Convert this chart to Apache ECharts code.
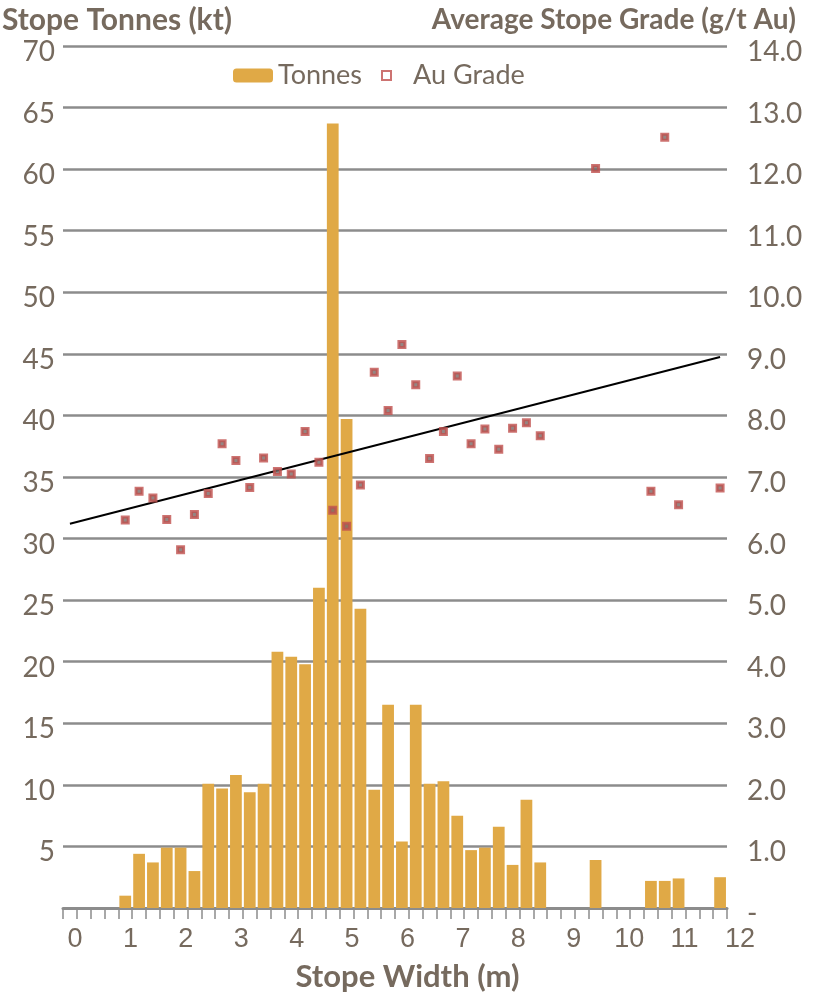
<!DOCTYPE html>
<html>
<head>
<meta charset="utf-8">
<script src="https://cdn.jsdelivr.net/npm/echarts@6/dist/echarts.min.js"></script>
<style>
html,body{margin:0;padding:0;background:#fff;}
#chart{width:819px;height:997px;}
</style>
</head>
<body>
<div id="chart"></div>
<script>
// 0.25 m stope-width bins
const categories = ['0.00','0.25','0.50','0.75','1.00','1.25','1.50','1.75','2.00','2.25','2.50','2.75',
  '3.00','3.25','3.50','3.75','4.00','4.25','4.50','4.75','5.00','5.25','5.50','5.75',
  '6.00','6.25','6.50','6.75','7.00','7.25','7.50','7.75','8.00','8.25','8.50','8.75',
  '9.00','9.25','9.50','9.75','10.00','10.25','10.50','10.75','11.00','11.25','11.50','11.75'];
// Stope tonnes (kt)
const tonnes = [null,null,null,null,1.0,4.4,3.7,4.9,4.9,3.0,10.1,9.7,
  10.8,9.4,10.1,20.8,20.4,19.8,26.0,63.7,39.7,24.3,9.6,16.5,
  5.4,16.5,10.1,10.3,7.5,4.7,4.9,6.6,3.5,8.8,3.7,null,
  null,null,3.9,null,null,null,2.2,2.2,2.4,null,null,2.5];
// Average stope grade (g/t Au)
const grade = [null,null,null,null,6.30,6.77,6.66,6.31,5.82,6.39,6.73,7.54,
  7.27,6.83,7.31,7.09,7.05,7.74,7.24,6.46,6.20,6.87,8.70,8.08,
  9.15,8.50,7.30,7.74,8.64,7.54,7.78,7.45,7.79,7.88,7.67,null,
  null,null,12.01,null,null,null,6.77,12.52,6.55,null,null,6.82];
// Linear trendline of grade: value at first and last bin
const trendEnds = [6.24, 8.95];
// Axis tick labels
const widthTicks = [0,1,2,3,4,5,6,7,8,9,10,11,12];

const TXT = '#766A5E';
const GRID = '#8C8C8C';
const FONT = 'Lato';

const trendData = categories.map((c, i) => i === 0 ? trendEnds[0] : (i === categories.length - 1 ? trendEnds[1] : '-'));
const gradeData = grade.map(v => v === null ? '-' : v);
const tonnesData = tonnes.map(v => v === null ? '-' : v);

const chart = echarts.init(document.getElementById('chart'), null, {renderer: 'canvas'});
chart.setOption({
  animation: false,
  backgroundColor: '#fff',
  title: [
    {text: 'Stope Tonnes (kt)', left: 0, top: 5, padding: [0, 0, 0, 2],
     textStyle: {fontFamily: FONT, fontWeight: 'bold', fontSize: 30, color: TXT}},
    {text: 'Average Stope Grade (g/t Au)', right: 23, top: 6, padding: 0,
     textStyle: {fontFamily: FONT, fontWeight: 'bold', fontSize: 28, color: TXT}}
  ],
  legend: [
    {data: ['Tonnes'], left: 233, top: 62, padding: 0, itemWidth: 40, itemHeight: 14, itemGap: 0,
     textStyle: {fontFamily: FONT, fontSize: 27, color: TXT, padding: [0, 0, 0, 0]}},
    {data: [{name: 'Au Grade', itemStyle: {color: '#ffffff', borderColor: '#C0504D', borderWidth: 2}}],
     left: 381, top: 62, padding: 0, itemWidth: 9, itemHeight: 9,
     textStyle: {fontFamily: FONT, fontSize: 27, color: TXT, padding: [0, 0, 0, 17]}}
  ],
  grid: [
    {left: 63, right: 92, top: 46, bottom: 89},
    {left: 75, right: 79, top: 46, bottom: 89}
  ],
  xAxis: [
    {type: 'category', gridIndex: 0, data: categories, boundaryGap: true,
     axisLine: {show: true, lineStyle: {color: GRID, width: 3}},
     axisTick: {show: true, interval: 0, length: 11, lineStyle: {color: GRID, width: 1.5}},
     axisLabel: {show: false}, splitLine: {show: false}},
    {type: 'value', gridIndex: 1, min: widthTicks[0], max: widthTicks[widthTicks.length - 1], interval: 1,
     axisLine: {show: false}, axisTick: {show: false}, splitLine: {show: false},
     axisLabel: {fontFamily: 'Liberation Sans', fontSize: 27, color: TXT, margin: 23},
     name: 'Stope Width (m)', nameLocation: 'middle', nameGap: 58,
     nameTextStyle: {fontFamily: FONT, fontWeight: 'bold', fontSize: 31, color: TXT}}
  ],
  yAxis: [
    {type: 'value', gridIndex: 0, min: 0, max: 70, interval: 5, position: 'left',
     axisLine: {show: false}, axisTick: {show: false},
     splitLine: {show: true, lineStyle: {color: GRID, width: 2.5}},
     axisLabel: {fontFamily: FONT, fontSize: 28, color: TXT, margin: 8,
       verticalAlign: 'top', lineHeight: 12,
       formatter: v => v === 0 ? '' : String(v)}},
    {type: 'value', gridIndex: 0, min: 0, max: 14, interval: 1, position: 'right',
     axisLine: {show: false}, axisTick: {show: false}, splitLine: {show: false},
     axisLabel: {fontFamily: FONT, fontSize: 28, color: TXT, margin: 20,
       verticalAlign: 'top', lineHeight: 12,
       formatter: v => v === 0 ? '-' : v.toFixed(1)}},
    {type: 'value', gridIndex: 1, min: 0, max: 1, show: false}
  ],
  series: [
    {name: 'Tonnes', type: 'bar', xAxisIndex: 0, yAxisIndex: 0, data: tonnesData,
     barCategoryGap: '15%', itemStyle: {color: '#E0A946'}, z: 2},
    {name: 'Trend', type: 'line', xAxisIndex: 0, yAxisIndex: 1, data: trendData,
     connectNulls: true, showSymbol: false, symbol: 'none',
     lineStyle: {color: '#000', width: 2}, z: 3},
    {name: 'Au Grade', type: 'scatter', xAxisIndex: 0, yAxisIndex: 1, data: gradeData,
     symbol: 'rect', symbolSize: 6,
     itemStyle: {color: '#7A6664', borderColor: '#C0504D', borderWidth: 3}, z: 4}
  ]
});
</script>
</body>
</html>
